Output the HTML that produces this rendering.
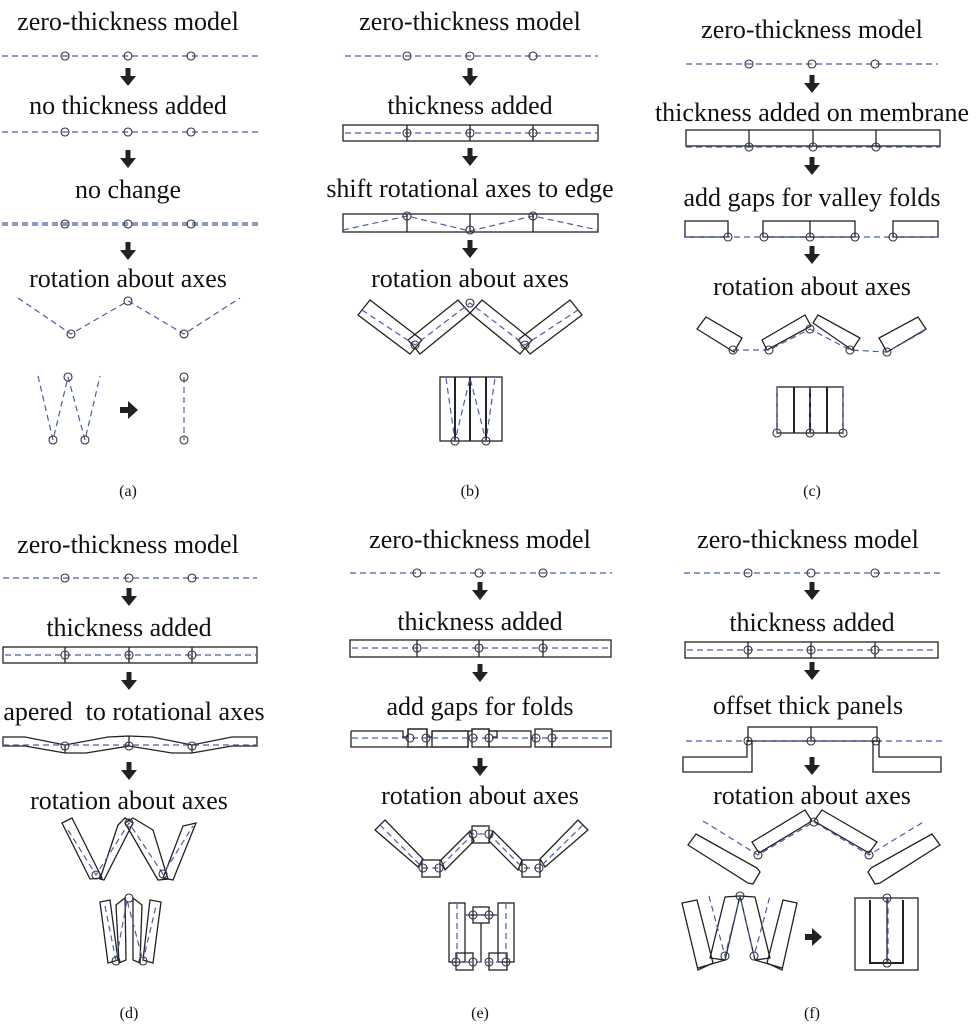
<!DOCTYPE html>
<html><head><meta charset="utf-8"><style>
html,body{margin:0;padding:0;background:#fff;}
svg{display:block;}
text{font-family:"Liberation Serif",serif;font-size:26px;fill:#111;text-anchor:middle;}
.lab{font-size:16px;}
.d{stroke:#4a5cb0;stroke-dasharray:6 4;fill:none;stroke-width:1.2;}
.k{stroke:#222;fill:none;stroke-width:1.3;}
.kf{stroke:#222;fill:#fff;stroke-width:1.3;}
circle{stroke:#333;fill:none;stroke-width:1.1;}
.ar{fill:#222;stroke:none;}
</style></head><body>
<svg width="978" height="1036" viewBox="0 0 978 1036" xmlns="http://www.w3.org/2000/svg">
<defs>
<polygon id="arr" class="ar" points="-2.5,0 2.5,0 2.5,8 8,8 0,18 -8,8 -2.5,8"/>
</defs>

<!-- ===== (a) ===== -->
<text x="128" y="30">zero-thickness model</text>
<line class="d" x1="2" y1="56" x2="258" y2="56"/>
<circle cx="65" cy="56" r="4"/><circle cx="128" cy="56" r="4"/><circle cx="191" cy="56" r="4"/>
<use href="#arr" x="128" y="68"/>
<text x="128" y="114">no thickness added</text>
<line class="d" x1="2" y1="132" x2="258" y2="132"/>
<circle cx="65" cy="132" r="4"/><circle cx="128" cy="132" r="4"/><circle cx="191" cy="132" r="4"/>
<use href="#arr" x="128" y="150"/>
<text x="128" y="198">no change</text>
<line class="d" x1="2" y1="223" x2="258" y2="223"/>
<line class="d" x1="2" y1="225" x2="258" y2="225"/>
<circle cx="65" cy="224" r="4"/><circle cx="128" cy="224" r="4"/><circle cx="191" cy="224" r="4"/>
<use href="#arr" x="128" y="242"/>
<text x="128" y="287">rotation about axes</text>
<polyline class="d" points="18,298 71,334 128,301 184,334 240,298"/>
<circle cx="71" cy="334" r="4"/><circle cx="128" cy="301" r="4"/><circle cx="184" cy="334" r="4"/>
<polyline class="d" points="38,376 53,440 68,377 85,440 100,376"/>
<circle cx="68" cy="377" r="4"/><circle cx="53" cy="440" r="4"/><circle cx="85" cy="440" r="4"/>
<polygon class="ar" points="120,407 128,407 128,401 138,410 128,419 128,413 120,413"/>
<line class="d" x1="184" y1="377" x2="184" y2="440"/>
<circle cx="184" cy="377" r="4"/><circle cx="184" cy="440" r="4"/>
<text class="lab" x="128" y="496">(a)</text>

<!-- ===== (b) ===== -->
<text x="470" y="30">zero-thickness model</text>
<line class="d" x1="345" y1="56" x2="598" y2="56"/>
<circle cx="407" cy="56" r="4"/><circle cx="470" cy="56" r="4"/><circle cx="533" cy="56" r="4"/>
<use href="#arr" x="470" y="68"/>
<text x="470" y="114">thickness added</text>
<rect class="k" x="343" y="125" width="255" height="16"/>
<line class="d" x1="345" y1="133" x2="597" y2="133"/>
<line class="k" x1="407" y1="125" x2="407" y2="141"/><line class="k" x1="470" y1="125" x2="470" y2="141"/><line class="k" x1="533" y1="125" x2="533" y2="141"/>
<circle cx="407" cy="133" r="4"/><circle cx="470" cy="133" r="4"/><circle cx="533" cy="133" r="4"/>
<use href="#arr" x="470" y="148"/>
<text x="470" y="197">shift rotational axes to edge</text>
<rect class="k" x="343" y="214" width="255" height="18"/>
<polyline class="d" points="343,230 407,216 470,231 533,216 598,230"/>
<line class="k" x1="407" y1="214" x2="407" y2="232"/><line class="k" x1="470" y1="214" x2="470" y2="232"/><line class="k" x1="533" y1="214" x2="533" y2="232"/>
<circle cx="407" cy="216" r="4"/><circle cx="470" cy="230" r="4"/><circle cx="533" cy="216" r="4"/>
<use href="#arr" x="470" y="240"/>
<text x="470" y="287">rotation about axes</text>
<polygon class="k" points="358,315 370,300 422,340 410,354"/>
<polygon class="k" points="408,340 458,300 470,313 420,354"/>
<polygon class="k" points="532,340 482,300 470,313 520,354"/>
<polygon class="k" points="582,315 570,300 518,340 530,354"/>
<polyline class="d" points="362,310 415,345 470,303 525,345 578,310"/>
<circle cx="415" cy="345" r="4"/><circle cx="470" cy="303" r="4"/><circle cx="525" cy="345" r="4"/>
<rect class="k" x="440" y="377" width="62" height="64"/>
<line class="k" x1="455" y1="377" x2="455" y2="441" style="stroke-width:2"/>
<line class="k" x1="470" y1="377" x2="470" y2="441" style="stroke-width:2"/>
<line class="k" x1="486" y1="377" x2="486" y2="441" style="stroke-width:2"/>
<polyline class="d" points="446,378 455,441 470,378 486,441 495,378"/>
<circle cx="455" cy="441" r="4"/><circle cx="486" cy="441" r="4"/>
<text class="lab" x="470" y="496">(b)</text>

<!-- ===== (c) ===== -->
<text x="812" y="38">zero-thickness model</text>
<line class="d" x1="686" y1="64" x2="938" y2="64"/>
<circle cx="749" cy="64" r="4"/><circle cx="812" cy="64" r="4"/><circle cx="875" cy="64" r="4"/>
<use href="#arr" x="812" y="75"/>
<text x="812" y="121">thickness added on membrane</text>
<rect class="k" x="686" y="130" width="254" height="16"/>
<line class="d" x1="686" y1="147" x2="940" y2="147"/>
<line class="k" x1="749" y1="130" x2="749" y2="146"/><line class="k" x1="813" y1="130" x2="813" y2="146"/><line class="k" x1="876" y1="130" x2="876" y2="146"/>
<circle cx="749" cy="147" r="4"/><circle cx="813" cy="147" r="4"/><circle cx="876" cy="147" r="4"/>
<use href="#arr" x="812" y="157"/>
<text x="812" y="206">add gaps for valley folds</text>
<rect class="k" x="685" y="221" width="43" height="16"/>
<rect class="k" x="763" y="221" width="92" height="16"/>
<line class="k" x1="810" y1="221" x2="810" y2="237"/>
<rect class="k" x="893" y="221" width="45" height="16"/>
<line class="d" x1="684" y1="237" x2="938" y2="237"/>
<circle cx="728" cy="237" r="4"/><circle cx="764" cy="237" r="4"/><circle cx="810" cy="237" r="4"/><circle cx="855" cy="237" r="4"/><circle cx="893" cy="237" r="4"/>
<use href="#arr" x="812" y="246"/>
<text x="812" y="295">rotation about axes</text>
<polygon class="k" points="697,329 706,317 742,338 734,352"/>
<polygon class="k" points="762,340 805,315 811,326 767,350"/>
<polygon class="k" points="813,323 818,315 860,338 852,350"/>
<polygon class="k" points="879,338 918,317 926,329 887,352"/>
<polyline class="d" points="733,350 769,350 810,329 850,350 887,352 926,330"/>
<circle cx="733" cy="350" r="4"/><circle cx="769" cy="350" r="4"/><circle cx="810" cy="329" r="4"/><circle cx="850" cy="350" r="4"/><circle cx="887" cy="352" r="4"/>
<rect class="k" x="777" y="387" width="66" height="46"/>
<line class="k" x1="794" y1="387" x2="794" y2="433" style="stroke-width:2"/>
<line class="k" x1="810" y1="387" x2="810" y2="433" style="stroke-width:2"/>
<line class="k" x1="827" y1="387" x2="827" y2="433" style="stroke-width:2"/>
<line class="d" x1="777" y1="387" x2="777" y2="433"/><line class="d" x1="810" y1="387" x2="810" y2="433"/><line class="d" x1="843" y1="387" x2="843" y2="433"/>
<circle cx="777" cy="433" r="4"/><circle cx="810" cy="433" r="4"/><circle cx="843" cy="433" r="4"/>
<text class="lab" x="812" y="496">(c)</text>

<!-- ===== (d) ===== -->
<text x="128" y="553">zero-thickness model</text>
<line class="d" x1="3" y1="578" x2="257" y2="578"/>
<circle cx="65" cy="578" r="4"/><circle cx="129" cy="578" r="4"/><circle cx="192" cy="578" r="4"/>
<use href="#arr" x="129" y="588"/>
<text x="129" y="636">thickness added</text>
<rect class="k" x="3" y="647" width="254" height="16"/>
<line class="d" x1="5" y1="655" x2="256" y2="655"/>
<line class="k" x1="65" y1="647" x2="65" y2="663"/><line class="k" x1="129" y1="647" x2="129" y2="663"/><line class="k" x1="192" y1="647" x2="192" y2="663"/>
<circle cx="65" cy="655" r="4"/><circle cx="129" cy="655" r="4"/><circle cx="192" cy="655" r="4"/>
<use href="#arr" x="129" y="672"/>
<text x="134" y="720">apered&#160; to rotational axes</text>
<polygon class="k" points="3,737 25,737 65,745 108,737 129,736 152,737 192,745 232,737 257,737 257,746 232,746 192,753 172,753 129,746 86,753 65,753 25,746 3,746"/>
<line class="d" x1="3" y1="745" x2="257" y2="745"/>
<line class="k" x1="65" y1="745" x2="65" y2="753"/><line class="k" x1="129" y1="736" x2="129" y2="746"/><line class="k" x1="192" y1="745" x2="192" y2="753"/>
<circle cx="65" cy="746" r="4"/><circle cx="129" cy="746" r="4"/><circle cx="192" cy="746" r="4"/>
<use href="#arr" x="129" y="762"/>
<text x="129" y="809">rotation about axes</text>
<polygon class="k" points="62,823 72,818 102,878 90,879"/>
<polygon class="k" points="100,879 118,825 125,818 133,823 104,880"/>
<polygon class="k" points="125,823 133,818 153,830 168,879 158,880"/>
<polygon class="k" points="163,878 183,826 196,823 173,880"/>
<polyline class="d" points="68,830 96,875 129,823 163,874 193,826"/>
<circle cx="96" cy="875" r="4"/><circle cx="129" cy="823" r="4"/><circle cx="163" cy="874" r="4"/>
<polygon class="k" points="100,902 110,900 118,960 108,963"/>
<polygon class="k" points="116,905 125,898 126,960 119,963"/>
<polygon class="k" points="133,898 142,905 140,963 133,960"/>
<polygon class="k" points="150,900 161,902 153,963 143,960"/>
<polyline class="d" points="105,906 116,961 127,900 143,961 156,906"/>
<circle cx="129" cy="898" r="4"/><circle cx="116" cy="961" r="4"/><circle cx="143" cy="961" r="4"/>
<text class="lab" x="129" y="1018">(d)</text>

<!-- ===== (e) ===== -->
<text x="480" y="548">zero-thickness model</text>
<line class="d" x1="350" y1="573" x2="612" y2="573"/>
<circle cx="417" cy="573" r="4"/><circle cx="479" cy="573" r="4"/><circle cx="543" cy="573" r="4"/>
<use href="#arr" x="480" y="582"/>
<text x="480" y="630">thickness added</text>
<rect class="k" x="350" y="640" width="261" height="17"/>
<line class="d" x1="352" y1="648" x2="610" y2="648"/>
<line class="k" x1="417" y1="640" x2="417" y2="657"/><line class="k" x1="479" y1="640" x2="479" y2="657"/><line class="k" x1="543" y1="640" x2="543" y2="657"/>
<circle cx="417" cy="648" r="4"/><circle cx="479" cy="648" r="4"/><circle cx="543" cy="648" r="4"/>
<use href="#arr" x="480" y="664"/>
<text x="480" y="715">add gaps for folds</text>
<polyline class="k" points="351,731 403,731 403,737 408,737 408,729 427,729 427,737 432,737 432,731 468,731 468,747 351,747 351,731"/>
<rect class="k" x="408" y="729" width="19" height="18"/>
<polyline class="k" points="468,731 472,731 472,729 489,729 489,731 492,731 497,731 497,737 492,737"/>
<rect class="k" x="472" y="729" width="17" height="18"/>
<rect class="k" x="489" y="731" width="42" height="16"/>
<rect class="k" x="535" y="729" width="17" height="18"/>
<rect class="k" x="552" y="731" width="59" height="16"/>
<rect class="k" x="432" y="731" width="36" height="16"/>
<line class="d" x1="352" y1="738" x2="610" y2="738"/>
<circle cx="410" cy="738" r="4"/><circle cx="426" cy="738" r="4"/><circle cx="473" cy="738" r="4"/><circle cx="489" cy="738" r="4"/><circle cx="536" cy="738" r="4"/><circle cx="552" cy="738" r="4"/>
<use href="#arr" x="480" y="758"/>
<text x="480" y="804">rotation about axes</text>
<polygon class="k" points="375,830 385,820 423,859 418,867"/>
<polygon class="k" points="441,860 470,831 474,841 445,870"/>
<polygon class="k" points="489,841 493,831 522,860 518,870"/>
<polygon class="k" points="540,859 578,820 588,830 545,867"/>
<rect class="k" x="422" y="860" width="18" height="17"/>
<rect class="k" x="472" y="826" width="17" height="17"/>
<rect class="k" x="522" y="860" width="18" height="17"/>
<polyline class="d" points="380,825 423,868 439,868 473,834 489,834 523,868 539,868 583,825"/>
<circle cx="423" cy="868" r="4"/><circle cx="439" cy="868" r="4"/><circle cx="473" cy="834" r="4"/><circle cx="489" cy="834" r="4"/><circle cx="523" cy="868" r="4"/><circle cx="539" cy="868" r="4"/>
<rect class="k" x="449" y="903" width="16" height="59"/>
<rect class="k" x="498" y="903" width="16" height="59"/>
<rect class="k" x="473" y="907" width="16" height="16"/>
<line class="k" x1="481" y1="923" x2="481" y2="962"/>
<line class="k" x1="465" y1="915" x2="498" y2="915"/>
<rect class="k" x="456" y="953" width="17" height="17"/>
<rect class="k" x="489" y="953" width="18" height="17"/>
<line class="d" x1="457" y1="903" x2="457" y2="962"/><line class="d" x1="506" y1="903" x2="506" y2="962"/>
<line class="d" x1="465" y1="915" x2="498" y2="915"/><line class="d" x1="456" y1="962" x2="506" y2="962"/>
<circle cx="473" cy="915" r="4"/><circle cx="489" cy="915" r="4"/><circle cx="456" cy="962" r="4"/><circle cx="473" cy="962" r="4"/><circle cx="489" cy="962" r="4"/><circle cx="506" cy="962" r="4"/>
<text class="lab" x="480" y="1018">(e)</text>

<!-- ===== (f) ===== -->
<text x="808" y="548">zero-thickness model</text>
<line class="d" x1="684" y1="573" x2="942" y2="573"/>
<circle cx="748" cy="573" r="4"/><circle cx="811" cy="573" r="4"/><circle cx="875" cy="573" r="4"/>
<use href="#arr" x="812" y="582"/>
<text x="812" y="631">thickness added</text>
<rect class="k" x="685" y="642" width="253" height="16"/>
<line class="d" x1="687" y1="650" x2="937" y2="650"/>
<line class="k" x1="748" y1="642" x2="748" y2="658"/><line class="k" x1="811" y1="642" x2="811" y2="658"/><line class="k" x1="875" y1="642" x2="875" y2="658"/>
<circle cx="748" cy="650" r="4"/><circle cx="811" cy="650" r="4"/><circle cx="875" cy="650" r="4"/>
<use href="#arr" x="812" y="662"/>
<text x="808" y="714">offset thick panels</text>
<rect class="k" x="748" y="727" width="129" height="14"/>
<line class="k" x1="811" y1="727" x2="811" y2="741"/>
<line class="d" x1="686" y1="741" x2="942" y2="741"/>
<polygon class="k" points="683,757 747,757 747,741 752,741 752,772 683,772"/>
<polygon class="k" points="941,757 879,757 879,741 873,741 873,772 941,772"/>
<circle cx="748" cy="741" r="4"/><circle cx="811" cy="741" r="4"/><circle cx="876" cy="741" r="4"/>
<use href="#arr" x="812" y="757"/>
<text x="812" y="804">rotation about axes</text>
<polygon class="k" points="752,842 805,810 812,821 759,853"/>
<polygon class="k" points="822,810 877,842 869,853 814,821"/>
<polygon class="k" points="688,845 696,834 757,868 760,872 753,884 748,883"/>
<polygon class="k" points="940,845 932,834 871,868 868,872 875,884 880,883"/>
<polyline class="d" points="703,821 758,855 814,822 869,855 925,821"/>
<circle cx="758" cy="855" r="4"/><circle cx="814" cy="822" r="4"/><circle cx="869" cy="855" r="4"/>
<polygon class="k" points="682,903 697,900 713,963 698,970"/>
<polygon class="k" points="710,958 725,897 740,896 725,960"/>
<polygon class="k" points="740,896 755,897 770,958 755,960"/>
<polygon class="k" points="767,963 783,900 797,903 782,970"/>
<polyline class="k" points="698,968 725,960"/><polyline class="k" points="755,960 782,968"/>
<polyline class="d" points="709,896 725,956 740,896 754,956 770,896"/>
<circle cx="740" cy="896" r="4"/><circle cx="725" cy="956" r="4"/><circle cx="754" cy="956" r="4"/>
<polygon class="ar" points="805,934 812,934 812,928 822,937 812,946 812,940 805,940"/>
<rect class="k" x="855" y="898" width="63" height="72"/>
<polyline class="k" points="870,900 870,963 903,963 903,900" style="stroke-width:2"/>
<line class="k" x1="887" y1="898" x2="887" y2="963"/>
<line class="d" x1="888" y1="898" x2="888" y2="963"/>
<circle cx="887" cy="898" r="4"/><circle cx="887" cy="963" r="4"/>
<text class="lab" x="812" y="1018">(f)</text>
</svg>
</body></html>
